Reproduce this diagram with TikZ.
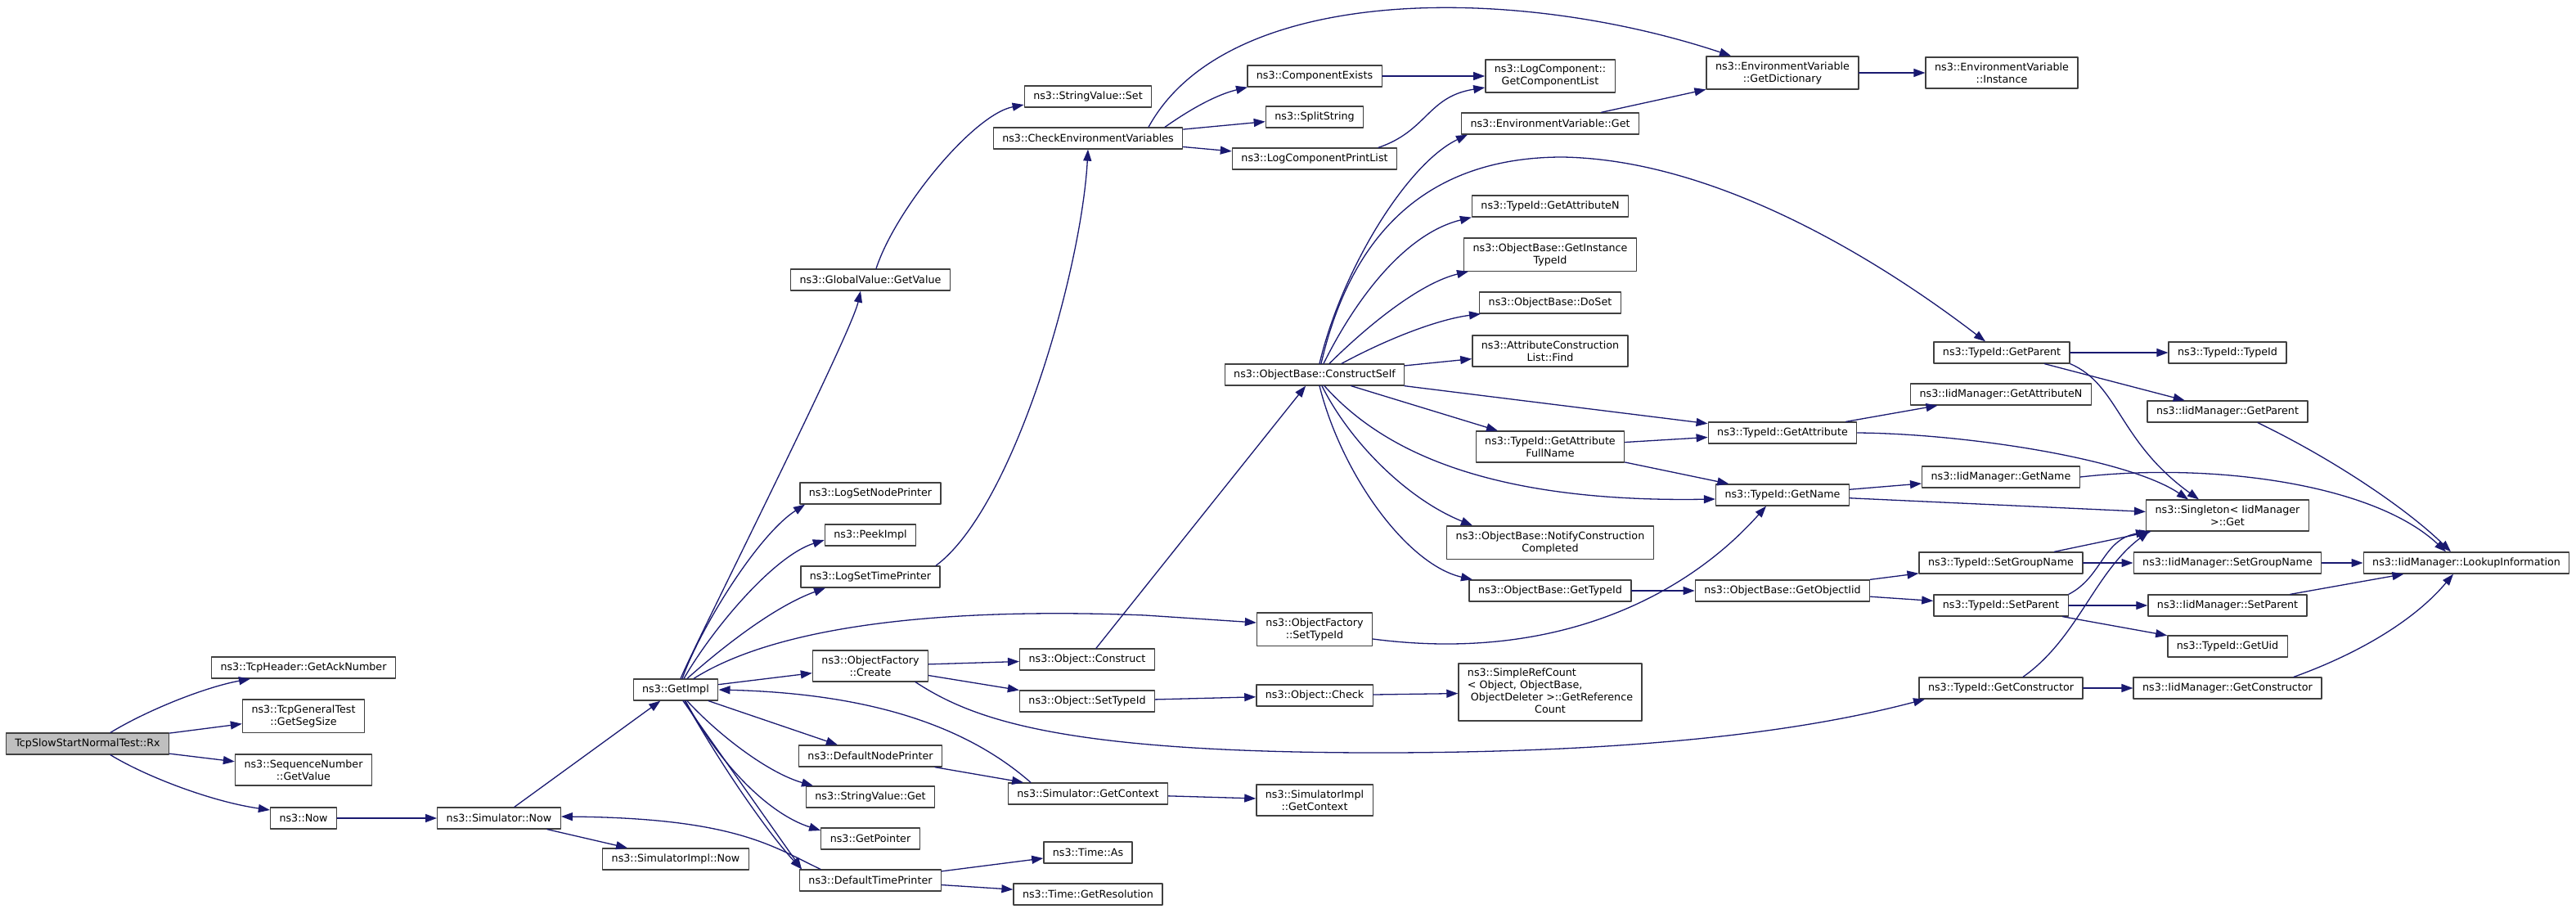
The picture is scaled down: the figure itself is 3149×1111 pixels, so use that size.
\documentclass[tikz,border=0pt]{standalone}
\usepackage{fontspec}
\setmainfont{DejaVu Sans}
\usetikzlibrary{arrows.meta}
\definecolor{callblue}{HTML}{191970}
\definecolor{boxline}{HTML}{404040}

\tikzset{
  fn/.style={draw=boxline, line width=1.3pt, fill=white, inner xsep=11pt, inner ysep=6.5pt,
    minimum height=26pt, align=center, font=\fontsize{12.7}{15}\selectfont},
  root/.style={fn, fill=black!25},
  call/.style={draw=callblue, line width=1.3pt, -{Triangle[length=14pt,width=10pt]}}
}

\begin{document}
\begin{tikzpicture}[x=1pt,y=-1pt,line cap=round,line join=round]
  \useasboundingbox (0,0) rectangle (3149,1111);
  % column 1-4
  \node[root] (rx) at (107,909) {TcpSlowStartNormalTest::Rx};
  \node[fn] (ack) at (371,816) {ns3::TcpHeader::GetAckNumber};
  \node[fn] (seg) at (371,875) {ns3::TcpGeneralTest\\::GetSegSize};
  \node[fn] (seqv) at (371,941) {ns3::SequenceNumber\\::GetValue};
  \node[fn] (now) at (371,1000) {ns3::Now};
  \node[fn] (simnow) at (610,1000) {ns3::Simulator::Now};
  \node[fn] (getimpl) at (826,843) {ns3::GetImpl};
  \node[fn] (simimplnow) at (826,1050) {ns3::SimulatorImpl::Now};
  % column 5
  \node[fn] (gvget) at (1064,342) {ns3::GlobalValue::GetValue};
  \node[fn] (lsnp) at (1064,603) {ns3::LogSetNodePrinter};
  \node[fn] (peek) at (1064,654) {ns3::PeekImpl};
  \node[fn] (lstp) at (1064,705) {ns3::LogSetTimePrinter};
  \node[fn] (ofcreate) at (1064,814) {ns3::ObjectFactory\\::Create};
  \node[fn] (dnp) at (1064,924) {ns3::DefaultNodePrinter};
  \node[fn] (svget) at (1064,974) {ns3::StringValue::Get};
  \node[fn] (getptr) at (1064,1025) {ns3::GetPointer};
  \node[fn] (dtp) at (1064,1076) {ns3::DefaultTimePrinter};
  % column 6
  \node[fn] (svset) at (1330,118) {ns3::StringValue::Set};
  \node[fn] (cev) at (1330,169) {ns3::CheckEnvironmentVariables};
  \node[fn] (objconstruct) at (1329,806) {ns3::Object::Construct};
  \node[fn] (objsettid) at (1329,857) {ns3::Object::SetTypeId};
  \node[fn] (simctx) at (1330,970) {ns3::Simulator::GetContext};
  \node[fn] (timeas) at (1330,1042) {ns3::Time::As};
  \node[fn] (timeres) at (1330,1093) {ns3::Time::GetResolution};
  % column 7
  \node[fn] (compexists) at (1607,93) {ns3::ComponentExists};
  \node[fn] (split) at (1607,143) {ns3::SplitString};
  \node[fn] (lcpl) at (1607,194) {ns3::LogComponentPrintList};
  \node[fn] (constructself) at (1607,458) {ns3::ObjectBase::ConstructSelf};
  \node[fn] (ofsettid) at (1607,769) {ns3::ObjectFactory\\::SetTypeId};
  \node[fn] (objcheck) at (1607,850) {ns3::Object::Check};
  \node[fn] (simimplctx) at (1607,978) {ns3::SimulatorImpl\\::GetContext};
  % column 8
  \node[fn] (lcgcl) at (1895,93) {ns3::LogComponent::\\GetComponentList};
  \node[fn] (envget) at (1895,151) {ns3::EnvironmentVariable::Get};
  \node[fn] (getattrn) at (1895,252) {ns3::TypeId::GetAttributeN};
  \node[fn] (getinsttid) at (1895,311) {ns3::ObjectBase::GetInstance\\TypeId};
  \node[fn] (doset) at (1895,370) {ns3::ObjectBase::DoSet};
  \node[fn] (aclfind) at (1895,429) {ns3::AttributeConstruction\\List::Find};
  \node[fn] (getattrfn) at (1895,546) {ns3::TypeId::GetAttribute\\FullName};
  \node[fn] (notify) at (1895,663) {ns3::ObjectBase::NotifyConstruction\\Completed};
  \node[fn] (obgettid) at (1895,722) {ns3::ObjectBase::GetTypeId};
  \node[fn, inner ysep=5pt] (simpleref) at (1895,846) {\begin{tabular}{@{}l@{}}ns3::SimpleRefCount\\
    {<} Object, ObjectBase,\\ \hspace*{4pt}ObjectDeleter {>}::GetReference\\
    \multicolumn{1}{@{}c@{}}{Count}\end{tabular}};
  % column 9
  \node[fn] (getdict) at (2179,89) {ns3::EnvironmentVariable\\::GetDictionary};
  \node[fn] (getattr) at (2179,529) {ns3::TypeId::GetAttribute};
  \node[fn] (getname) at (2179,605) {ns3::TypeId::GetName};
  \node[fn] (getobjiid) at (2179,722) {ns3::ObjectBase::GetObjectIid};
  % column 10
  \node[fn] (instance) at (2447,89) {ns3::EnvironmentVariable\\::Instance};
  \node[fn] (getparent) at (2447,431) {ns3::TypeId::GetParent};
  \node[fn] (iidgetattrn) at (2446,482) {ns3::IidManager::GetAttributeN};
  \node[fn] (iidgetname) at (2446,583) {ns3::IidManager::GetName};
  \node[fn] (setgroup) at (2446,688) {ns3::TypeId::SetGroupName};
  \node[fn] (setparent) at (2446,740) {ns3::TypeId::SetParent};
  \node[fn] (getctor) at (2446,841) {ns3::TypeId::GetConstructor};
  % column 11-12
  \node[fn] (tidtid) at (2723,431) {ns3::TypeId::TypeId};
  \node[fn] (iidgetparent) at (2723,503) {ns3::IidManager::GetParent};
  \node[fn] (singleton) at (2723,630) {ns3::Singleton{<} IidManager\\{>}::Get};
  \node[fn] (iidsetgroup) at (2723,688) {ns3::IidManager::SetGroupName};
  \node[fn] (iidsetparent) at (2723,740) {ns3::IidManager::SetParent};
  \node[fn] (getuid) at (2723,790) {ns3::TypeId::GetUid};
  \node[fn] (iidgetctor) at (2723,841) {ns3::IidManager::GetConstructor};
  \node[fn] (lookup) at (3015,688) {ns3::IidManager::LookupInformation};

  % straight calls
  \foreach \a/\b in {now/simnow, rx/seg, rx/seqv, simnow/getimpl, simnow/simimplnow,
      getimpl/ofcreate, getimpl/dnp, dnp/simctx, dtp/timeas, dtp/timeres,
      ofcreate/objconstruct, ofcreate/objsettid, objconstruct/constructself,
      objsettid/objcheck, objcheck/simpleref, simctx/simimplctx, cev/split, cev/lcpl,
      compexists/lcgcl, envget/getdict, getdict/instance, constructself/aclfind,
      constructself/getattr, constructself/getattrfn, getattrfn/getattr, getattrfn/getname,
      getattr/iidgetattrn, getname/iidgetname, getname/singleton, getparent/tidtid,
      getparent/iidgetparent, obgettid/getobjiid, getobjiid/setgroup, getobjiid/setparent,
      setgroup/singleton, setgroup/iidsetgroup, iidsetgroup/lookup, setparent/iidsetparent,
      setparent/getuid, iidsetparent/lookup, getctor/iidgetctor}
    \draw[call] (\a) -- (\b);

  % curved calls
  \draw[call] ([xshift=28pt]rx.north) .. controls (180,868) and (250,840) .. ([xshift=-65pt]ack.south);
  \draw[call] ([xshift=28pt]rx.south) .. controls (180,950) and (260,980) .. ([yshift=10pt]now.west);
  \draw[call] ([xshift=7pt]gvget.north) .. controls (1095,255) and (1190,140) .. ([yshift=-10pt]svset.west);
  \draw[call] ([xshift=6pt]getimpl.north) .. controls (848,790) and (1040,410) .. ([xshift=-12pt]gvget.south);
  \draw[call] ([xshift=8pt]getimpl.north) .. controls (855,770) and (925,655) .. ([xshift=-80pt]lsnp.south);
  \draw[call] ([xshift=10pt]getimpl.north) .. controls (870,770) and (945,680) .. ([yshift=-6pt]peek.west);
  \draw[call] ([xshift=14pt]getimpl.north) .. controls (890,785) and (950,740) .. ([xshift=-55pt]lstp.south);
  \draw[call] ([xshift=80pt]lstp.north) .. controls (1240,620) and (1322,330) .. (cev.south);
  \draw[call] ([xshift=22pt]getimpl.north) .. controls (950,765) and (1150,742) .. (1400,752)
    -- ([yshift=8pt]ofsettid.west);
  \draw[call] ([xshift=-70pt]simctx.north) .. controls (1190,895) and (1080,848) .. (getimpl.east);
  \draw[call] ([xshift=14pt]getimpl.south) .. controls (880,900) and (940,945) .. ([xshift=-70pt]svget.north);
  \draw[call] ([xshift=12pt]getimpl.south) .. controls (880,935) and (940,995) .. ([yshift=10pt]getptr.west);
  \draw[call] ([xshift=9pt]getimpl.south) -- ([xshift=-84pt]dtp.north);
  \draw[call] ([xshift=11pt]getimpl.south) .. controls (890,950) and (945,1025) .. ([xshift=-84pt]dtp.north);
  \draw[call] ([xshift=-61pt]dtp.north) .. controls (945,1035) and (900,1000) .. ([yshift=2pt]simnow.east);
  \draw[call] ([xshift=55pt]ofcreate.south) .. controls (1190,880) and (1300,921) .. (1700,920)
    .. controls (2000,919) and (2200,895) .. ([xshift=-93pt]getctor.south);
  \draw[call] ([xshift=74pt]cev.north) .. controls (1500,-20) and (1850,-20) .. ([xshift=-63pt]getdict.north);
  \draw[call] ([xshift=94pt]cev.north) .. controls (1460,130) and (1490,115) .. ([xshift=-82pt]compexists.south);
  \draw[call] ([xshift=78pt]lcpl.north) .. controls (1745,160) and (1745,118) .. ([yshift=-14pt]lcgcl.west);
  \draw[call] ([xshift=6pt]constructself.north) .. controls (1640,330) and (1720,200) .. ([xshift=-101pt]envget.south);
  \draw[call] ([xshift=8pt]constructself.north) .. controls (1660,250) and (1780,192) .. (1910,192)
    .. controls (2100,195) and (2300,320) .. ([xshift=-20pt]getparent.north);
  \draw[call] ([xshift=11pt]constructself.north) .. controls (1660,360) and (1720,285) .. (getattrn.south west);
  \draw[call] ([xshift=18pt]constructself.north) .. controls (1680,390) and (1740,345) .. ([xshift=-100pt]getinsttid.south);
  \draw[call] ([xshift=33pt]constructself.north) .. controls (1700,412) and (1760,390) .. ([xshift=-85pt]doset.south);
  \draw[call] ([xshift=12pt]constructself.south) .. controls (1680,540) and (1800,615) .. ([yshift=-5pt]getname.west);
  \draw[call] ([xshift=9pt]constructself.south) .. controls (1650,540) and (1720,610) .. ([xshift=-95pt]notify.north);
  \draw[call] ([xshift=6pt]constructself.south) .. controls (1640,580) and (1720,690) .. ([xshift=-95pt]obgettid.north);
  \draw[call] ([yshift=-12pt]ofsettid.east) .. controls (1900,810) and (2060,730) .. ([xshift=-20pt]getname.south);
  \draw[call] (getattr.east) .. controls (2400,530) and (2600,560) .. ([xshift=-48pt]singleton.north);
  \draw[call] (getparent.south east) .. controls (2590,470) and (2590,540) .. ([xshift=-35pt]singleton.north);
  \draw[call] (iidgetname.east) .. controls (2700,565) and (2900,590) .. ([xshift=-25pt]lookup.north);
  \draw[call] ([xshift=37pt]iidgetparent.south) .. controls (2850,560) and (2940,620) .. ([xshift=-19pt]lookup.north);
  \draw[call] (setparent.north east) .. controls (2570,705) and (2570,660) .. ([xshift=-98pt]singleton.south);
  \draw[call] ([xshift=27pt]getctor.north) .. controls (2540,780) and (2560,700) .. ([xshift=-96pt]singleton.south);
  \draw[call] ([xshift=81pt]iidgetctor.north) .. controls (2880,800) and (2950,760) .. ([xshift=-16pt]lookup.south);
\end{tikzpicture}
\end{document}
